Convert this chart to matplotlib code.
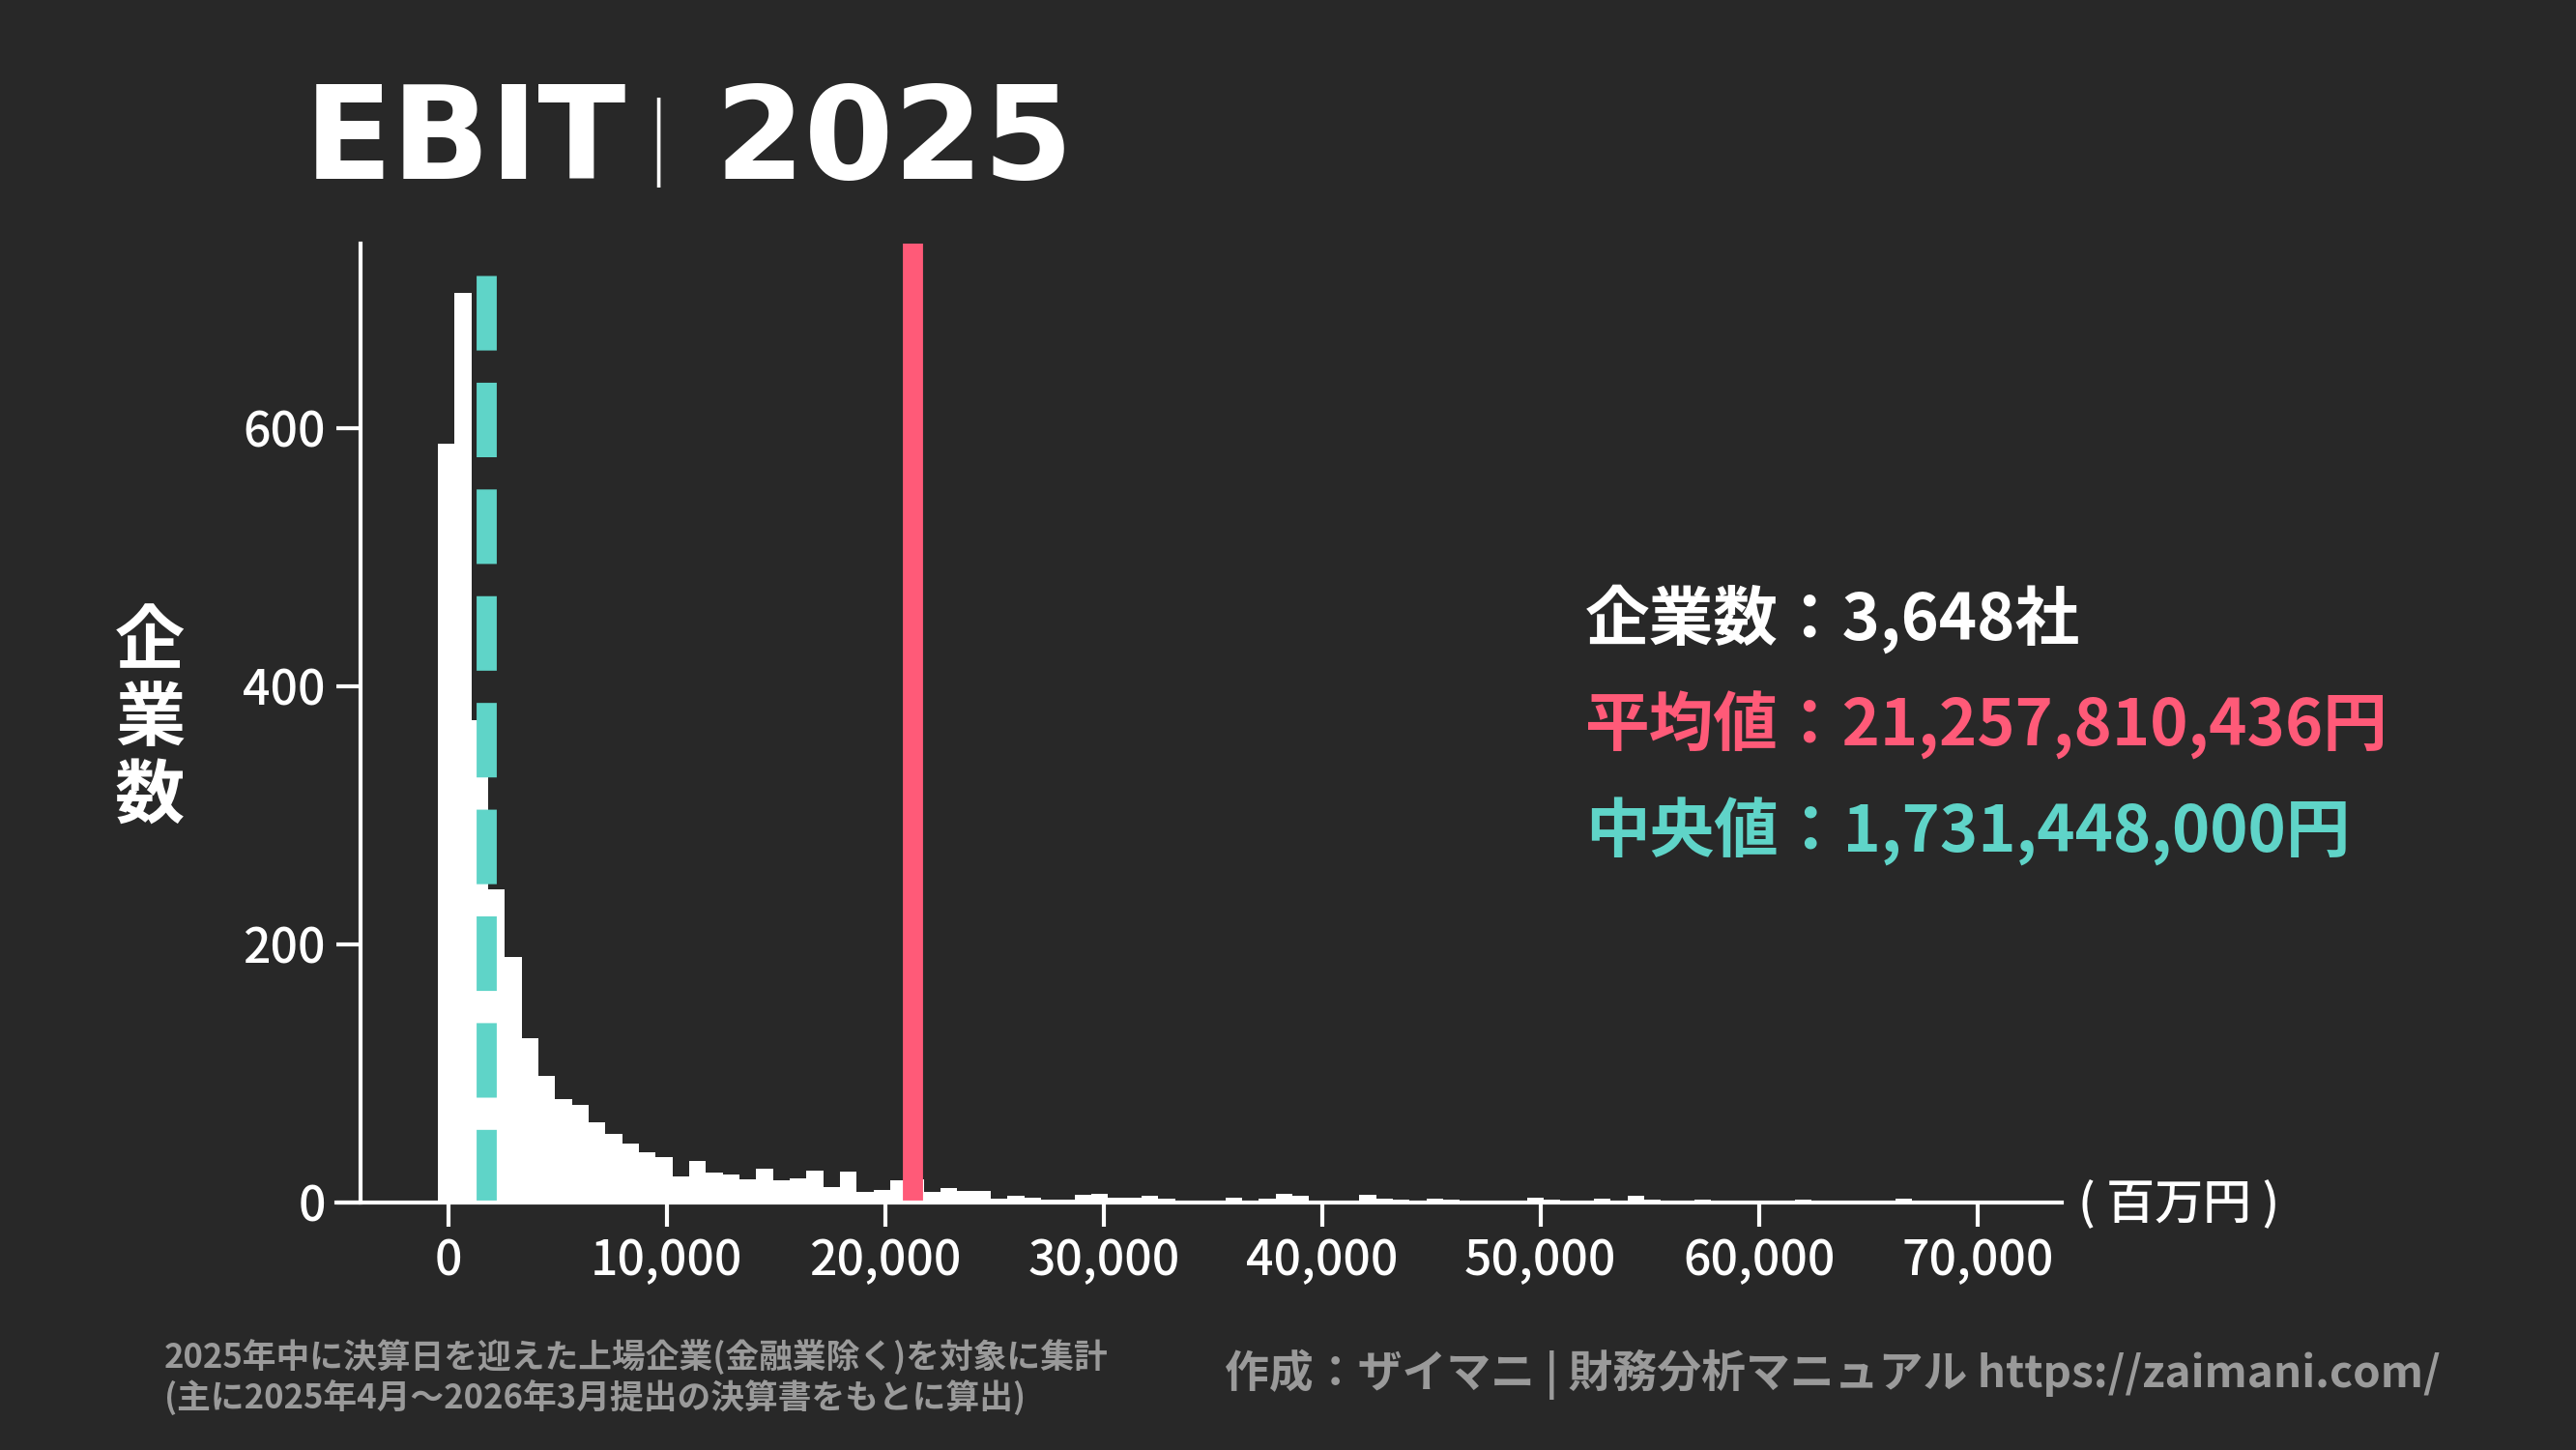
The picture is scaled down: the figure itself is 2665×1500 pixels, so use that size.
import numpy as np
import matplotlib
matplotlib.use("Agg")
import matplotlib.pyplot as plt

plt.rcParams['font.family'] = ['Noto Sans CJK JP', 'DejaVu Sans']

# ヒストグラムのデータ（百万円、ビン幅 約767）
bin_start = -474
bin_width = 767
counts = [588, 705, 374, 243, 190, 127, 98, 80, 76, 62, 53, 46, 39, 35, 20, 32, 23, 22, 18, 26,
          17, 19, 25, 12, 24, 8, 10, 17, 18, 8, 11, 9, 9, 3, 5, 4, 2, 2, 6, 7,
          4, 4, 5, 3, 1, 1, 1, 4, 1, 3, 7, 5, 1, 1, 1, 6, 3, 2, 1, 3,
          2, 1, 1, 1, 1, 4, 2, 1, 1, 3, 1, 5, 2, 1, 1, 2, 1, 1, 1, 1,
          1, 2, 1, 1, 1, 1, 1, 3, 1, 1, 1, 1, 1, 1, 1]
mean_val = 21257.810436
median_val = 1731.448
n_companies = "3,648"
xticks = [0, 10000, 20000, 30000, 40000, 50000, 60000, 70000]
yticks = [0, 200, 400, 600]

BG = "#282828"
PINK = "#ff5a78"
TEAL = "#5fd4c8"
GRAY = "#9a9a9a"
W, H = 2665, 1500

fig = plt.figure(figsize=(W / 100, H / 100), dpi=100, facecolor=BG)
ax = fig.add_axes([348 / W, 1 - 1244 / H, (2133 - 348) / W, (1244 - 252) / H])
ax.set_facecolor(BG)

edges = bin_start + bin_width * np.arange(len(counts) + 1)
ax.bar(edges[:-1], counts, width=bin_width, align="edge", color="white", linewidth=0)

ax.axvline(mean_val, color=PINK, lw=15, ymin=0, ymax=1)
ax.plot([median_val, median_val], [718, 0], color=TEAL, lw=15, dashes=(3.7, 1.6))

ax.set_xlim(-5120, 73860)
ax.set_ylim(0, 743)
ax.spines['top'].set_visible(False)
ax.spines['right'].set_visible(False)
ax.spines['left'].set_position(('data', -4010))
for s in ['left', 'bottom']:
    ax.spines[s].set_color("white")
    ax.spines[s].set_linewidth(3)
ax.set_xticks(xticks)
ax.set_xticklabels([f"{v:,}" for v in xticks])
ax.set_yticks(yticks)
ax.tick_params(colors="white", labelsize=36, width=3, length=18, pad=8)
for lab in ax.get_xticklabels() + ax.get_yticklabels():
    lab.set_fontweight("medium")

# テキスト
fig.text(315 / W, 1 - 148 / H, "EBIT", color="white", fontsize=96, fontweight="heavy",
         family=['DejaVu Sans'], va="center")
fig.text(670 / W, 1 - 148 / H, "|", color="white", fontsize=60, va="center", fontweight="light")
fig.text(740 / W, 1 - 148 / H, "2025", color="white", fontsize=96, fontweight="heavy",
         family=['DejaVu Sans'], va="center")
fig.text(155 / W, 1 - 745 / H, "企\n業\n数", color="white", fontsize=52, fontweight="bold",
         ha="center", va="center", linespacing=1.1)

fig.text(1640 / W, 1 - 640 / H, f"企業数：{n_companies}社", color="white", fontsize=48,
         fontweight="bold", va="center")
fig.text(1640 / W, 1 - 750 / H, f"平均値：{mean_val * 1e6:,.0f}円", color=PINK, fontsize=48,
         fontweight="bold", va="center")
fig.text(1640 / W, 1 - 860 / H, f"中央値：{median_val * 1e6:,.0f}円", color=TEAL, fontsize=48,
         fontweight="bold", va="center")

fig.text(2150 / W, 1 - 1247 / H, "( 百万円 )", color="white", fontsize=36, va="center",
         fontweight="medium")

fig.text(170 / W, 1 - 1404 / H, "2025年中に決算日を迎えた上場企業(金融業除く)を対象に集計",
         color=GRAY, fontsize=25, fontweight="bold", va="center")
fig.text(170 / W, 1 - 1446 / H, "(主に2025年4月～2026年3月提出の決算書をもとに算出)",
         color=GRAY, fontsize=25, fontweight="bold", va="center")
fig.text(2525 / W, 1 - 1422 / H, "作成：ザイマニ | 財務分析マニュアル https://zaimani.com/",
         color=GRAY, fontsize=33, fontweight="bold", va="center", ha="right")

fig.savefig("out.png", dpi=100, facecolor=BG)
